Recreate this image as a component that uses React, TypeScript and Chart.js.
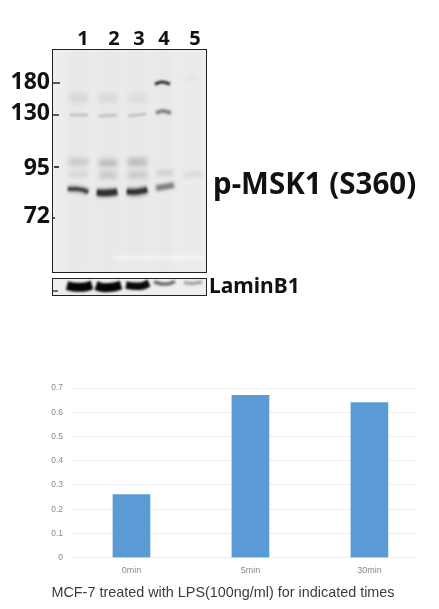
import React, { useEffect, useRef } from "react";
import Chart from "chart.js/auto";

// ---- densitometry bar chart ----
const timeLabels = ["0min", "5min", "30min"];
const timeIndex = [0, 1, 2];
const relativeLevels = [0.26, 0.67, 0.64];
const levelTicks = [0, 0.1, 0.2, 0.3, 0.4, 0.5, 0.6, 0.7];
const chartCaption = "MCF-7 treated with LPS(100ng/ml) for indicated times";

// ---- blot annotation ----
const laneLabels = ["1", "2", "3", "4", "5"];
const laneLabelGelX = [31, 62, 87, 112, 143];
const markerLabels = ["180", "130", "95", "72"];
const markerGelY = [33, 64, 119, 167];
const blotName = "p-MSK1 (S360)";
const loadingName = "LaminB1";

// ---- blot bands, read as [gel x, gel y] ----
type P = [number, number];
const mainBand1: P[] = [[16, 140], [24, 140], [31, 141], [36, 143]];
const mainBand2: P[] = [[45, 143.5], [52, 144], [60, 143.5], [65, 142.5]];
const mainBand3: P[] = [[75, 142.5], [82, 143], [90, 142], [95, 140.5]];
const mainBand4: P[] = [[104, 139], [112, 138], [122, 136]];
const band180: P[] = [[103, 35], [110, 33], [118, 35]];
const band130Lane4: P[] = [[104, 64], [111, 62], [119, 64]];
const faint130Lane1: P[] = [[18, 66], [36, 66]];
const faint130Lane2: P[] = [[47, 67], [65, 66]];
const faint130Lane3: P[] = [[76, 67], [94, 65]];
const haze150Lane1: P[] = [[18, 49], [36, 49]];
const haze150Lane2: P[] = [[47, 49], [65, 49]];
const haze150Lane3: P[] = [[76, 49], [94, 49]];
const haze100Lane1: P[] = [[17, 113], [36, 113]];
const haze100Lane2: P[] = [[47, 114], [65, 114]];
const haze100Lane3: P[] = [[76, 113], [95, 113]];
const haze90Lane1: P[] = [[17, 125], [36, 125]];
const haze90Lane2: P[] = [[47, 126], [65, 126]];
const haze90Lane3: P[] = [[76, 126], [95, 126]];
const haze90Lane4: P[] = [[105, 124], [121, 124]];
const faintLane5Top: P[] = [[132, 29], [146, 28]];
const faintLane5Low: P[] = [[132, 126], [150, 125]];
const ladder180: P[] = [[0, 34], [8, 34]];
const ladder130: P[] = [[0, 66], [7, 66]];
const ladder95: P[] = [[2, 118], [7, 118]];
const ladder72: P[] = [[0, 169], [3, 169]];
const laneSmear1: P[] = [[26, 0], [26, 224]];
const laneSmear2: P[] = [[56, 0], [56, 224]];
const laneSmear3: P[] = [[85, 0], [85, 224]];
const laneSmear4: P[] = [[112, 0], [112, 224]];
const laneSmear5: P[] = [[140, 0], [140, 224]];
const watermark: P[] = [[60, 209], [152, 209]];

// ---- loading control bands, [gel x, panel y] ----
const lamin1: P[] = [[15, 7.5], [21, 9], [33, 9], [40, 7]];
const lamin2: P[] = [[44, 7.5], [50, 9.5], [62, 9], [69, 7]];
const lamin3: P[] = [[74, 7], [80, 8], [90, 8], [97, 5]];
const lamin4: P[] = [[102, 4], [110, 6], [118, 5.5], [123, 3.5]];
const lamin5: P[] = [[132, 4.5], [140, 5.5], [150, 4]];
const laminLadder: P[] = [[0, 13], [6, 13]];

const band = (pts: P[], color: string, width: number, blur: number) => ({
  data: pts.map(([x, y]) => ({ x, y })),
  borderColor: color,
  borderWidth: width,
  blurPx: blur,
  pointRadius: 0,
  tension: 0.3,
  borderCapStyle: "butt",
  yAxisID: "y",
});

const panelPlugin = {
  id: "panel",
  beforeDraw(chart: any) {
    const { ctx, chartArea: a } = chart;
    ctx.save();
    ctx.fillStyle = "#eeeef0";
    ctx.fillRect(a.left, a.top, a.right - a.left, a.bottom - a.top);
    ctx.restore();
  },
  beforeDatasetDraw(chart: any, args: any) {
    const b = chart.data.datasets[args.index].blurPx || 0;
    chart.ctx.filter = b ? `blur(${b}px)` : "none";
  },
  afterDatasetDraw(chart: any) {
    chart.ctx.filter = "none";
  },
  afterDraw(chart: any) {
    const { ctx, chartArea: a } = chart;
    ctx.save();
    ctx.strokeStyle = "#222";
    ctx.lineWidth = 1;
    ctx.strokeRect(a.left + 0.5, a.top + 0.5, a.right - a.left - 1, a.bottom - a.top - 1);
    ctx.restore();
  },
};

const boldFace = "'Noto Sans'";

const fitBox = (size: Partial<{ width: number; height: number }>) => (s: any) => {
  Object.assign(s, size);
  s.paddingTop = 0;
  s.paddingBottom = 0;
  s.paddingLeft = 0;
  s.paddingRight = 0;
};

function makeBlot(canvas: HTMLCanvasElement) {
  const dark = "#0a0a0a";
  const haze = (a: number) => `rgba(90,90,96,${a})`;
  return new Chart(canvas, {
    type: "line",
    data: {
      datasets: [
        band(laneSmear1, haze(0.035), 24, 4),
        band(laneSmear2, haze(0.035), 24, 4),
        band(laneSmear3, haze(0.035), 24, 4),
        band(laneSmear4, haze(0.035), 22, 4),
        band(laneSmear5, haze(0.015), 22, 4),
        band(haze150Lane1, haze(0.13), 9, 2.5),
        band(haze150Lane2, haze(0.11), 8, 2.5),
        band(haze150Lane3, haze(0.08), 8, 2.5),
        band(haze100Lane1, haze(0.2), 8, 2.2),
        band(haze100Lane2, haze(0.28), 8, 2.2),
        band(haze100Lane3, haze(0.28), 9, 2.2),
        band(haze90Lane1, haze(0.13), 6, 2.2),
        band(haze90Lane2, haze(0.2), 8, 2.2),
        band(haze90Lane3, haze(0.2), 8, 2.2),
        band(haze90Lane4, haze(0.2), 5, 2.2),
        band(faint130Lane1, haze(0.3), 2.5, 1.2),
        band(faint130Lane2, haze(0.3), 2.5, 1.2),
        band(faint130Lane3, haze(0.3), 2.5, 1.2),
        band(faintLane5Top, haze(0.09), 3, 2),
        band(faintLane5Low, haze(0.14), 5, 2.5),
        band(watermark, "rgba(255,255,255,0.6)", 4, 1.5),
        band(mainBand1, haze(0.4), 8, 1.5),
        band(mainBand2, haze(0.45), 10, 1.5),
        band(mainBand3, haze(0.45), 10, 1.5),
        band(mainBand1, "#242424", 3.5, 0.8),
        band(mainBand2, dark, 6, 0.8),
        band(mainBand3, dark, 5, 0.8),
        band(mainBand4, "rgba(70,70,72,0.65)", 6, 1.5),
        band(band180, "#2b2b2b", 3, 0.8),
        band(band130Lane4, "rgba(80,80,82,0.65)", 4, 1.2),
        band(ladder180, "#5c5a45", 2, 0.5),
        band(ladder130, "#5c5a55", 2, 0.5),
        band(ladder95, "#444", 2, 0.5),
        band(ladder72, "#5c5a55", 2, 0.5),
      ] as any,
    },
    options: {
      animation: false,
      responsive: false,
      layout: { padding: { bottom: 2 } },
      plugins: { legend: { display: false }, tooltip: { enabled: false } },
      scales: {
        x: {
          type: "linear",
          position: "top",
          min: 0,
          max: 155,
          grid: { display: false, drawTicks: false },
          border: { display: false },
          afterBuildTicks: (s: any) => {
            s.ticks = laneLabelGelX.map((value) => ({ value }));
          },
          afterFit: fitBox({ height: 29 }),
          ticks: {
            autoSkip: false,
            maxRotation: 0,
            padding: -2,
            color: "#111",
            font: { family: boldFace, size: 20, weight: "bold" },
            callback: (v: any) => laneLabels[laneLabelGelX.indexOf(v)] ?? "",
          },
        },
        y: {
          type: "linear",
          reverse: true,
          min: 0,
          max: 224,
          grid: { display: false, drawTicks: false },
          border: { display: false },
          afterBuildTicks: (s: any) => {
            s.ticks = markerGelY.map((value) => ({ value }));
          },
          afterFit: fitBox({ width: 52 }),
          ticks: {
            autoSkip: false,
            padding: 2,
            color: "#111",
            font: { family: boldFace, size: 23, weight: "bold" },
            callback: (v: any) => markerLabels[markerGelY.indexOf(v)] ?? "",
          },
        },
        yName: {
          type: "linear",
          position: "right",
          reverse: true,
          min: 0,
          max: 224,
          grid: { display: false, drawTicks: false },
          border: { display: false },
          afterBuildTicks: (s: any) => {
            s.ticks = [{ value: 137 }];
          },
          afterFit: fitBox({ width: 232 }),
          ticks: {
            autoSkip: false,
            padding: 6,
            color: "#111",
            font: { family: boldFace, size: 29.5, weight: "bold" },
            callback: () => blotName,
          },
        },
      } as any,
    },
    plugins: [panelPlugin],
  } as any);
}

function makeLamin(canvas: HTMLCanvasElement) {
  return new Chart(canvas, {
    type: "line",
    data: {
      datasets: [
        band(lamin1, "#050505", 9, 0.8),
        band(lamin2, "#050505", 9, 0.8),
        band(lamin3, "#0a0a0a", 7.5, 0.8),
        band(lamin4, "rgba(70,70,70,0.75)", 3.5, 0.9),
        band(lamin5, "rgba(110,110,110,0.55)", 3.5, 1),
        band(laminLadder, "#444", 1.5, 0.4),
      ] as any,
    },
    options: {
      animation: false,
      responsive: false,
      layout: { padding: { left: 52, top: 8, bottom: 8 } },
      plugins: { legend: { display: false }, tooltip: { enabled: false } },
      scales: {
        x: { type: "linear", min: 0, max: 155, display: false },
        y: { type: "linear", reverse: true, min: 0, max: 18, display: false },
        yName: {
          type: "linear",
          position: "right",
          reverse: true,
          min: 0,
          max: 18,
          grid: { display: false, drawTicks: false },
          border: { display: false },
          afterBuildTicks: (s: any) => {
            s.ticks = [{ value: 9.5 }];
          },
          afterFit: fitBox({ width: 232 }),
          ticks: {
            autoSkip: false,
            padding: 2,
            color: "#111",
            font: { family: boldFace, size: 21, weight: "bold" },
            callback: () => loadingName,
          },
        },
      } as any,
    },
    plugins: [panelPlugin],
  } as any);
}

function makeBars(canvas: HTMLCanvasElement) {
  return new Chart(canvas, {
    type: "bar",
    data: {
      datasets: [
        {
          data: timeIndex.map((x, i) => ({ x, y: relativeLevels[i] })),
          backgroundColor: "#5b9bd5",
          barThickness: 37,
        },
      ],
    },
    options: {
      animation: false,
      responsive: false,
      layout: { padding: { right: 22, top: 18 } },
      plugins: {
        legend: { display: false },
        tooltip: { enabled: false },
        title: {
          display: true,
          position: "bottom",
          text: chartCaption,
          color: "#3c3c3c",
          padding: { top: 0, bottom: 7 },
          font: { family: "'Liberation Sans'", size: 14.4, weight: "normal" },
        },
      },
      scales: {
        x: {
          type: "linear",
          offset: false,
          min: -0.5,
          max: 2.4,
          grid: { display: false, drawTicks: false },
          border: { display: false },
          afterBuildTicks: (s: any) => {
            s.ticks = timeIndex.map((value) => ({ value }));
          },
          afterFit: fitBox({ height: 27 }),
          ticks: {
            autoSkip: false,
            maxRotation: 0,
            padding: 7,
            color: "#8a8a8a",
            font: { family: "'Liberation Sans'", size: 9 },
            callback: (v: any) => timeLabels[v] ?? "",
          },
        },
        y: {
          min: 0,
          max: 0.7,
          grid: { color: "#eeeeee", lineWidth: 1, drawTicks: false },
          border: { display: false },
          afterBuildTicks: (s: any) => {
            s.ticks = levelTicks.map((value) => ({ value }));
          },
          afterFit: fitBox({ width: 43 }),
          ticks: {
            padding: 9,
            color: "#8a8a8a",
            font: { family: "'Liberation Sans'", size: 8.5 },
            callback: (v: any) => String(v),
          },
        },
      },
    },
  } as any);
}

export default function App() {
  const blotRef = useRef<HTMLCanvasElement>(null);
  const laminRef = useRef<HTMLCanvasElement>(null);
  const barsRef = useRef<HTMLCanvasElement>(null);

  useEffect(() => {
    const charts = [
      makeBlot(blotRef.current!),
      makeLamin(laminRef.current!),
      makeBars(barsRef.current!),
    ];
    return () => charts.forEach((c) => c.destroy());
  }, []);

  const abs = (left: number, top: number, extra = {}) =>
    ({ position: "absolute", left, top, display: "block", ...extra } as React.CSSProperties);

  return (
    <div style={{ position: "absolute", left: 0, top: 0, width: 439, height: 609, overflow: "hidden", background: "#fff" }}>
      <canvas ref={blotRef} width={439} height={255} style={abs(0, 20)} />
      <canvas ref={laminRef} width={439} height={34} style={abs(0, 270)} />
      <canvas ref={barsRef} width={410} height={239} style={abs(29, 370, { filter: "blur(0.6px)" })} />
    </div>
  );
}
